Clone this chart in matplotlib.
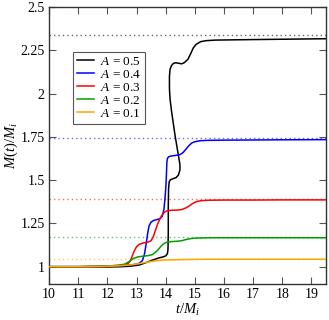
import matplotlib
matplotlib.use("Agg")
import matplotlib.pyplot as plt

plt.rcParams['font.family'] = ['Liberation Serif', 'DejaVu Serif']
plt.rcParams['mathtext.fontset'] = 'custom'
plt.rcParams['mathtext.rm'] = 'Liberation Serif'
plt.rcParams['mathtext.it'] = 'Liberation Serif:italic'

# ---- data ----
labels = ['$A$ = 0.5', '$A$ = 0.4', '$A$ = 0.3', '$A$ = 0.2', '$A$ = 0.1']
colors = ['black', '#0000ff', '#ff0000', '#00a000', '#ffa500']
asymptotes = [2.337, 1.742, 1.389, 1.169, 1.046]

t_a05 = [10.0, 11.0, 12.0, 12.5, 12.8, 13.1, 13.3, 13.55, 13.75, 13.9, 14.0, 14.06, 14.08,
         14.09, 14.09, 14.1, 14.12, 14.16, 14.25, 14.36, 14.44, 14.49, 14.49, 14.45, 14.38,
         14.32, 14.26, 14.2, 14.15, 14.13, 14.13, 14.15, 14.2, 14.27, 14.35, 14.45, 14.55,
         14.65, 14.77, 14.87, 14.95, 15.05, 15.2, 15.4, 15.7, 16.5, 17.5, 18.5, 19.5]
m_a05 = [1.0, 1.0, 0.998, 1.0, 1.003, 1.01, 1.022, 1.038, 1.05, 1.056, 1.062, 1.075, 1.1,
         1.2, 1.35, 1.45, 1.49, 1.502, 1.508, 1.515, 1.53, 1.56, 1.59, 1.63, 1.70,
         1.76, 1.83, 1.90, 1.97, 2.03, 2.10, 2.14, 2.162, 2.175, 2.178, 2.175, 2.172,
         2.18, 2.2, 2.235, 2.265, 2.285, 2.3, 2.306, 2.309, 2.311, 2.313, 2.315, 2.317]

t_a04 = [10, 11, 12, 12.5, 12.8, 13.0, 13.1, 13.2, 13.27, 13.33, 13.38, 13.43, 13.5, 13.6,
         13.7, 13.8, 13.88, 13.94, 13.98, 14.01, 14.03, 14.04, 14.06, 14.1, 14.2, 14.35,
         14.5, 14.6, 14.7, 14.8, 14.9, 15.0, 15.2, 15.5, 16, 17, 18, 19.5]
m_a04 = [1.0, 1.0, 1.003, 1.006, 1.01, 1.015, 1.02, 1.035, 1.07, 1.13, 1.19, 1.235, 1.258,
         1.268, 1.272, 1.277, 1.29, 1.33, 1.40, 1.47, 1.55, 1.60, 1.625, 1.635, 1.64, 1.643,
         1.648, 1.66, 1.68, 1.70, 1.715, 1.722, 1.728, 1.73, 1.731, 1.732, 1.733, 1.734]

t_a03 = [10, 11, 12, 12.4, 12.6, 12.7, 12.78, 12.85, 12.92, 13.0, 13.1, 13.25, 13.4, 13.5,
         13.58, 13.65, 13.72, 13.8, 13.88, 13.96, 14.05, 14.2, 14.4, 14.55, 14.7, 14.8,
         14.9, 15.0, 15.1, 15.25, 15.5, 16, 17, 18, 19.5]
m_a03 = [1.0, 1.0, 1.004, 1.008, 1.012, 1.018, 1.03, 1.06, 1.09, 1.115, 1.13, 1.138, 1.142,
         1.15, 1.175, 1.21, 1.245, 1.275, 1.30, 1.315, 1.323, 1.326, 1.327, 1.33, 1.34, 1.35,
         1.362, 1.372, 1.378, 1.382, 1.384, 1.385, 1.385, 1.386, 1.386]

t_a02 = [10, 11, 12, 12.4, 12.6, 12.75, 12.9, 13.05, 13.2, 13.4, 13.55, 13.65, 13.75, 13.85,
         13.95, 14.05, 14.2, 14.4, 14.55, 14.7, 14.85, 15.0, 15.2, 15.5, 16, 17, 19.5]
m_a02 = [1.0, 1.0, 1.003, 1.008, 1.015, 1.03, 1.048, 1.057, 1.06, 1.064, 1.07, 1.083, 1.10,
         1.12, 1.135, 1.142, 1.145, 1.147, 1.15, 1.157, 1.162, 1.165, 1.166, 1.167, 1.167,
         1.167, 1.167]

t_a01 = [10, 11, 12, 12.5, 12.8, 13.1, 13.4, 13.7, 14.0, 14.3, 14.6, 15.0, 15.5, 16, 17, 19.5]
m_a01 = [1.0, 1.0, 1.002, 1.006, 1.01, 1.018, 1.027, 1.035, 1.039, 1.04, 1.041, 1.042, 1.043,
         1.043, 1.043, 1.043]

xticks = [10, 11, 12, 13, 14, 15, 16, 17, 18, 19]
yticks = [1.0, 1.25, 1.5, 1.75, 2.0, 2.25, 2.5]
ytick_labels = ['1', '1.25', '1.5', '1.75', '2', '2.25', '2.5']

series = [(t_a05, m_a05), (t_a04, m_a04), (t_a03, m_a03), (t_a02, m_a02), (t_a01, m_a01)]

# ---- plot ----
fig = plt.figure(figsize=(3.29, 3.20), dpi=100)
ax = fig.add_axes([0.149, 0.1125, 0.842, 0.8655])

for (t, m), c, lab in zip(series, colors, labels):
    ax.plot(t, m, color=c, lw=1.1, label=lab, zorder=3)

for val, c in zip(asymptotes, colors):
    ax.axhline(val, color=c, lw=1.0, ls=(0, (1, 2.2)), alpha=0.6, zorder=2)

ax.set_xlim(10, 19.5)
ax.set_ylim(0.9, 2.5)
ax.set_xticks(xticks)
ax.set_yticks(yticks)
ax.set_yticklabels(ytick_labels)
ax.tick_params(direction='in', top=True, right=True, length=5, width=0.8,
               labelsize=10, pad=3, colors='black')
ax.tick_params(axis='both', which='both', color='#555555')
for s in ax.spines.values():
    s.set_linewidth(1.0)
    s.set_color('#333333')

ax.set_xlabel('$t/M_i$', fontsize=10.5)
ax.xaxis.set_label_coords(0.5, -0.065, transform=ax.transAxes)
ax.set_ylabel('$M(t)/M_i$', fontsize=10.5)
ax.yaxis.set_label_coords(-0.105, 0.5, transform=ax.transAxes)

leg = ax.legend(loc='upper left', bbox_to_anchor=(0.087, 0.838), borderaxespad=0,
                fontsize=9.5, handlelength=1.25, handletextpad=0.45, labelspacing=0.05,
                borderpad=0.3, fancybox=False, framealpha=1.0)
leg.get_frame().set_edgecolor('#555555')
leg.get_frame().set_linewidth(0.8)

fig.savefig('out.png', dpi=100)
